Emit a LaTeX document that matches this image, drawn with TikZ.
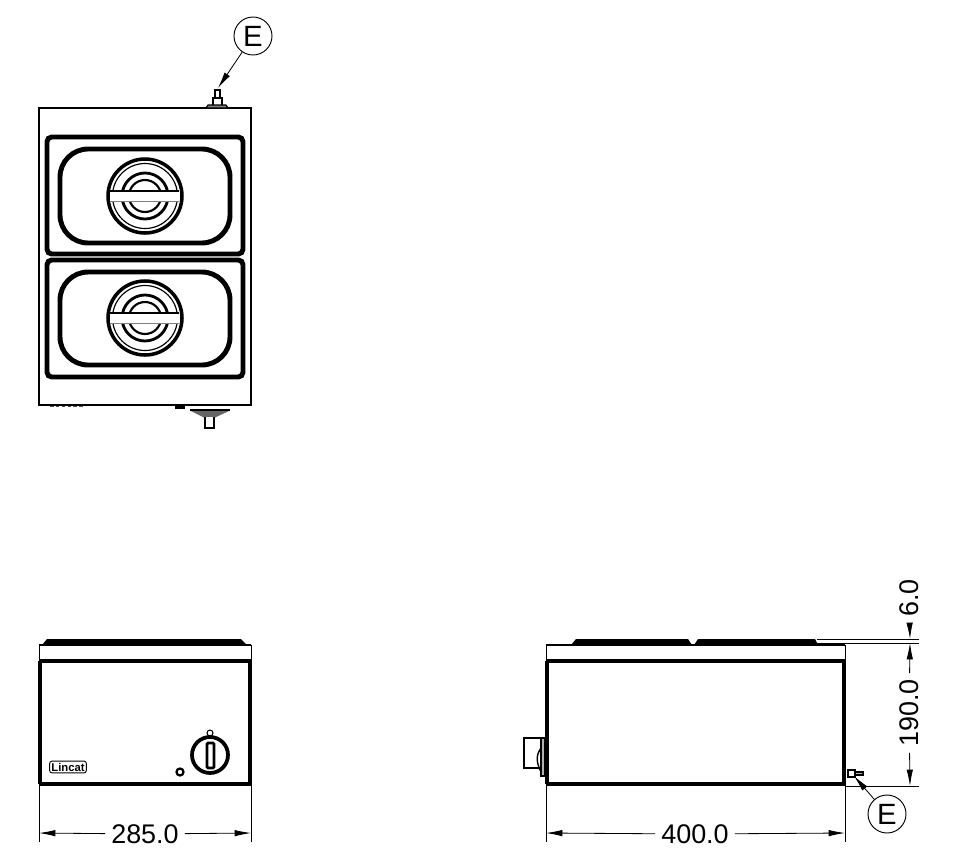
\documentclass[tikz,border=0pt]{standalone}
\usepackage{fontspec}
\setmainfont{Liberation Sans}
\usetikzlibrary{arrows.meta}
\tikzset{
  outline/.style={line width=1.7pt},
  heavy/.style={line width=4.2pt},
  thinline/.style={line width=0.7pt},
  dimarrow/.style={line width=0.7pt,-{Latex[length=14pt,width=5.5pt]}},
  dimtext/.style={font=\fontsize{23}{23}\selectfont,inner sep=5pt},
  callout/.style={draw,circle,line width=0.8pt,minimum size=1.14cm,inner sep=0pt,font=\fontsize{25}{25}\selectfont},
}
\begin{document}
\begin{tikzpicture}[x=0.03cm,y=-0.03cm]
\useasboundingbox (0,0) rectangle (956,861);

% top view
\draw[outline] (39,108) rectangle (251,405);
\draw[heavy,rounded corners=4pt] (47,137) rectangle (243,254);
\draw[heavy,rounded corners=4pt] (47,260) rectangle (243,377);
\draw[heavy,rounded corners=24pt] (60,149) rectangle (230,243);
\draw[heavy,rounded corners=24pt] (60,272) rectangle (230,365);

\foreach \cy in {196,318} {
  \draw[line width=3pt] (145,\cy) circle (37);
  \draw[line width=1pt] (145,\cy) circle (32.5);
  \draw[line width=2.4pt] (145,\cy) circle (23);
  \draw[line width=1.8pt] (145,\cy) circle (16);
  \fill[white] (110,\cy-5) rectangle (179,\cy+5);
  \draw[line width=1pt] (110,\cy-5) -- (179,\cy-5);
  \draw[line width=0.6pt,gray] (110,\cy+5) -- (179,\cy+5);
}

% fitting on top edge
\draw[line width=1pt,fill=black!50] (206,108) -- (208,105) -- (226,105) -- (228,108) -- cycle;
\draw[line width=0.9pt] (213,105) -- (213,98) -- (222,98) -- (222,105);
\draw[line width=1.2pt] (215,98) -- (215,90) -- (220,90) -- (220,98);

% bracket under the top view
\fill (175,405) rectangle (185,409);
\fill[black!60] (191,411) -- (205,418) -- (214,418) -- (229,411) -- cycle;
\draw[line width=2pt] (190,410) -- (230,410);
\draw[line width=1.6pt,fill=white] (205,417) -- (205,428) -- (214,428) -- (214,417);
\draw[thinline,dash pattern=on 3pt off 2pt,black!70] (50,406.5) -- (85,406.5);

\node[callout] (calloutTop) at (253,36) {E};
\coordinate (fitTop) at (218,88);
\draw[dimarrow] (calloutTop) -- (fitTop);

% front view
\fill (42,645) -- (47,639) -- (241,639) -- (247,645) -- cycle;
\draw[thinline] (39,645) rectangle (251,661);
\draw[outline] (39,645) -- (251,645);
\draw[heavy] (39,661) -- (251,661);
\draw[line width=2.6pt] (40,661) -- (40,784);
\draw[line width=2.6pt] (250,661) -- (250,784);
\draw[heavy] (39,784) -- (251,784);

\node[draw,rounded corners=2pt,line width=0.8pt,inner sep=1.5pt,font=\bfseries\fontsize{9.6}{10}\selectfont] (logoFront) at (68,767) {Lincat};

\draw[line width=3.2pt] (210,755) circle (18);
\draw[line width=2.4pt,rounded corners=1pt] (207,743) rectangle (214,768);
\draw[line width=0.9pt] (210,733) circle (3);
\draw[line width=1.9pt] (180,772) circle (3.5);

\coordinate (frontL) at (39,842);
\coordinate (frontR) at (251,842);
\draw[thinline] (39,784) -- (frontL);
\draw[thinline] (251,784) -- (frontR);
\node[dimtext] (dimFront) at (145,834) {285.0};
\draw[dimarrow] (dimFront) -- (39,833);
\draw[dimarrow] (dimFront) -- (251,833);

% side view
\fill (571,645) -- (576,639) -- (688,639) -- (692,645) -- cycle;
\fill (694,645) -- (698,639) -- (815,639) -- (818,645) -- cycle;
\draw[thinline] (546,645) rectangle (845,661);
\draw[outline] (546,645) -- (845,645);
\draw[heavy] (546,661) -- (845,661);
\draw[line width=2.8pt] (547,661) -- (547,784);
\draw[line width=2.8pt] (844,661) -- (844,784);
\draw[heavy] (546,784) -- (845,784);

% knob on the side view
\draw[line width=2pt] (524,738) rectangle (541,768);
\draw[line width=1.4pt,fill=black!30] (541,738) -- (545,738) -- (545,776) -- (541,776) -- cycle;
\draw[line width=1.2pt] (541,748) .. controls (536,755) and (536,762) .. (541,772);

% fitting on the side view
\draw[line width=0.9pt] (848,770) rectangle (855,777);
\draw[line width=0.9pt,fill=black!30] (855,772) rectangle (863,775);

\node[callout] (calloutSide) at (887,814) {E};
\coordinate (fitSide) at (854,776);
\draw[dimarrow] (calloutSide) -- (fitSide);

% dimensions of the side view
\coordinate (sideL) at (546,842);
\coordinate (sideR) at (845,842);
\draw[thinline] (546,784) -- (sideL);
\draw[thinline] (845,645) -- (sideR);
\node[dimtext] (dimSide) at (695,834) {400.0};
\draw[dimarrow] (dimSide) -- (546,833);
\draw[dimarrow] (dimSide) -- (845,833);

\coordinate (topA) at (919,639);
\coordinate (topB) at (919,643);
\coordinate (botA) at (919,786);
\draw[thinline] (817,639) -- (topA);
\draw[thinline] (817,643) -- (topB);
\draw[thinline] (845,786) -- (botA);

\node[dimtext,rotate=90] (dimPad) at (909,598) {6.0};
\node[dimtext,rotate=90] (dimBody) at (909,713) {190.0};
\draw[dimarrow] (dimPad) -- (910,639);
\draw[dimarrow] (dimBody) -- (910,643);
\draw[dimarrow] (dimBody) -- (910,786);

\end{tikzpicture}
\end{document}
